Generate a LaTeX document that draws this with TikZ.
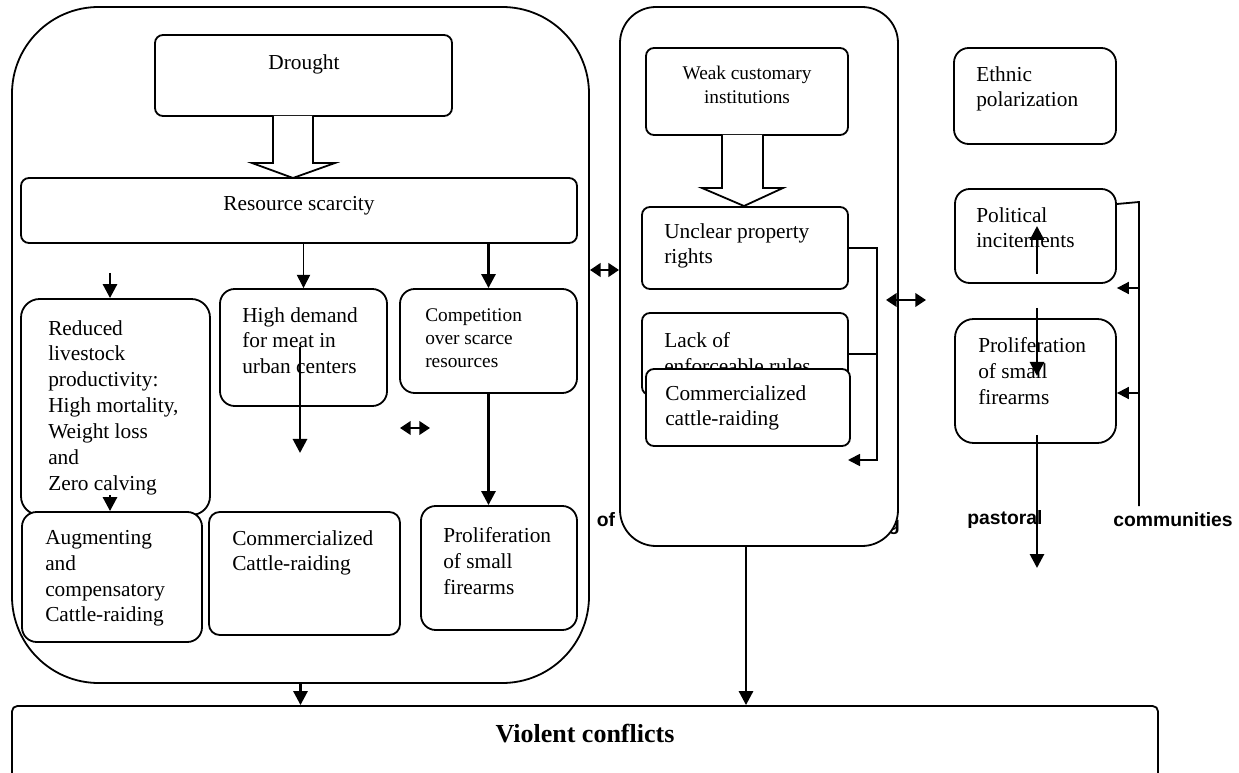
\documentclass[tikz,border=0pt]{standalone}
\usepackage{fontspec}
\setmainfont{Liberation Serif}
\newfontfamily\labfont{Liberation Sans}
\usetikzlibrary{arrows.meta,positioning,calc,fit}

\tikzset{
    frame/.style={draw, line width=1.35pt, fill=white, inner sep=0pt},
    box/.style={frame, rounded corners=6pt},
    rbox/.style={frame, rounded corners=11pt},
    txt/.style={inner sep=0pt, align=left, font={\fontsize{16}{19.4}\selectfont}},
    stxt/.style={inner sep=0pt, align=left, font={\fontsize{14.5}{17.5}\selectfont}},
    lab/.style={inner sep=0pt, font={\labfont\bfseries\fontsize{14.5}{17}\selectfont}},
    arr/.style={-{Triangle[length=10.5pt,width=10.5pt]}, line width=2.1pt},
    thinarr/.style={-{Triangle[length=10pt,width=10pt]}, line width=0.8pt},
    linkarr/.style={-{Triangle[length=9pt,width=9pt]}, line width=1.35pt},
    dblarr/.style={{Triangle[length=8pt,width=10pt]}-{Triangle[length=8pt,width=10pt]}, line width=2.1pt},
    hollow/.style={draw, line width=1.35pt, fill=white, line join=miter},
}

\begin{document}
\begin{tikzpicture}[x=0.75pt, y=-0.75pt]
    \useasboundingbox (0,0) rectangle (1239,773);

    \node[frame, rounded corners=65pt, fit={(12,7) (589,683)}] (leftbox) {};
    \node[lab] (g) at (894,527) {g};
    \node[frame, rounded corners=27pt, fit={(620,7) (898,546)}] (rightbox) {};

    \node[box, fit={(155,35) (452,116)}] (drought) {};
    \node[box, fit={(21,178) (577,243)}] (resource) {};
    \node[rbox, rounded corners=14pt, fit={(21,299) (210,515)}] (reduced) {};
    \node[rbox, fit={(220,289) (387,406)}] (demand) {};
    \node[rbox, fit={(400,289) (577,393)}] (compet) {};
    \node[rbox, fit={(22,512) (202,642)}] (augment) {};
    \node[box, rounded corners=8pt, fit={(209,512) (400,635)}] (commleft) {};
    \node[rbox, fit={(421,506) (577,630)}] (prolifl) {};

    \node[box, fit={(646,48) (848,135)}] (weak) {};
    \node[box, fit={(642,207) (848,289)}] (unclear) {};
    \node[box, fit={(642,313) (848,395)}] (lack) {};
    \node[txt, anchor=north west] (lacktxt) at (664,332) {Lack of\\enforceable rules};
    \node[box, fit={(646,369) (850,446)}] (commright) {};

    \node[rbox, fit={(954,48) (1116,144)}] (ethnic) {};
    \node[rbox, fit={(955,189) (1116,283)}] (political) {};
    \node[rbox, rounded corners=14pt, fit={(955,319) (1116,443)}] (prolifr) {};

    \node[box, rounded corners=4pt, fit={(12,706) (1158,800)}] (violent) {};

    \node[txt, anchor=north] (droughttxt) at (304,54) {Drought};
    \node[txt, anchor=north] (resourcetxt) at (299,196) {Resource scarcity};
    \node[txt, anchor=north west] (reducedtxt) at (48,320) {Reduced\\livestock\\productivity:\\High mortality,\\Weight loss\\and\\Zero calving};
    \node[txt, anchor=north west] (demandtxt) at (242,307) {High demand\\for meat in\\urban centers};
    \node[stxt, anchor=north west] (compettxt) at (425,308) {Competition\\over scarce\\resources};
    \node[txt, anchor=north west] (augmenttxt) at (45,530) {Augmenting\\and\\compensatory\\Cattle-raiding};
    \node[txt, anchor=north west] (commlefttxt) at (232,530) {Commercialized\\Cattle-raiding};
    \node[txt, anchor=north west] (prolifltxt) at (443,527) {Proliferation\\of small\\firearms};
    \node[stxt, align=center, anchor=north] (weaktxt) at (747,66) {Weak customary\\institutions};
    \node[txt, anchor=north west] (uncleartxt) at (664,223) {Unclear property\\rights};
    \node[txt, anchor=north west] (commrighttxt) at (665,385) {Commercialized\\cattle-raiding};
    \node[txt, anchor=north west] (ethnictxt) at (976,66) {Ethnic\\polarization};
    \node[txt, anchor=north west] (politicaltxt) at (976,207) {Political\\incitements};
    \node[txt, anchor=north west] (prolifrtxt) at (978,337) {Proliferation\\of small\\firearms};
    \node[inner sep=0pt, font={\bfseries\fontsize{19.5}{23}\selectfont}] (violenttxt) at (585,734) {Violent conflicts};

    \node[lab] (of) at (606,520) {of};
    \node[lab] (pastoral) at (1005,520) {pastoral};
    \node[lab] (communities) at (1173,520) {communities};

    \draw[hollow] (273,116) -- (273,163) -- (252,163) -- (293,178) -- (335,163) -- (313,163) -- (313,116);
    \draw[hollow] (722,135) -- (722,188) -- (702,188) -- (744,206) -- (783,188) -- (763,188) -- (763,135);

    \coordinate (redtop) at (110,273);
    \coordinate (redbot) at (110,495);
    \coordinate (demandin) at (300,347);
    \coordinate (demandout) at (300,453);
    \coordinate (smallleft) at (400,428);
    \coordinate (smallright) at (430,428);
    \coordinate (midlink) at (605,270);
    \coordinate (rightleft) at (886,300);
    \coordinate (rightright) at (926,300);
    \coordinate (bracketend) at (848,460);
    \coordinate (rbtop) at (1139,202);
    \coordinate (rbbot) at (1139,506);
    \coordinate (rbmida) at (1139,288);
    \coordinate (rbmidb) at (1139,393);
    \coordinate (upfrom) at (1037,274);
    \coordinate (upto) at (1037,226);
    \coordinate (downfrom) at (1037,308);
    \coordinate (downto) at (1037,376);
    \coordinate (outfrom) at (1037,435);
    \coordinate (outto) at (1037,568);
    \coordinate (rbout) at (746,546);

    \draw[thinarr] (resource.south -| demand.north) -- (demand.north);
    \draw[arr] (resource.south -| compet.north) -- (compet.north);
    \draw[arr] (redtop) -- (redtop |- reduced.north);
    \draw[arr] (demandin) -- (demandout);
    \draw[arr] (compet.south) -- (compet.south |- prolifl.north);
    \draw[arr] (redbot) -- (redbot |- augment.north);
    \draw[dblarr] (smallleft) -- (smallright);
    \draw[dblarr] (midlink -| leftbox.east) -- (midlink -| rightbox.west);
    \draw[dblarr] (rightleft) -- (rightright);

    \draw[linkarr] (unclear.east) -- ++(28,0) |- (bracketend);
    \draw[line width=1.35pt] (lack.east) -- ++(28,0);

    \draw[line width=1.35pt] ($(political.east)+(0,-32)$) -- (rbtop) -- (rbbot);
    \draw[linkarr] (rbmida) -- (rbmida -| political.east);
    \draw[linkarr] (rbmidb) -- (rbmidb -| prolifr.east);
    \draw[arr] (upfrom) -- (upto);
    \draw[arr] (downfrom) -- (downto);
    \draw[arr] (outfrom) -- (outto);

    \draw[arr] (leftbox.south) -- (leftbox.south |- violent.north);
    \draw[arr] (rbout) -- (rbout |- violent.north);
\end{tikzpicture}
\end{document}
